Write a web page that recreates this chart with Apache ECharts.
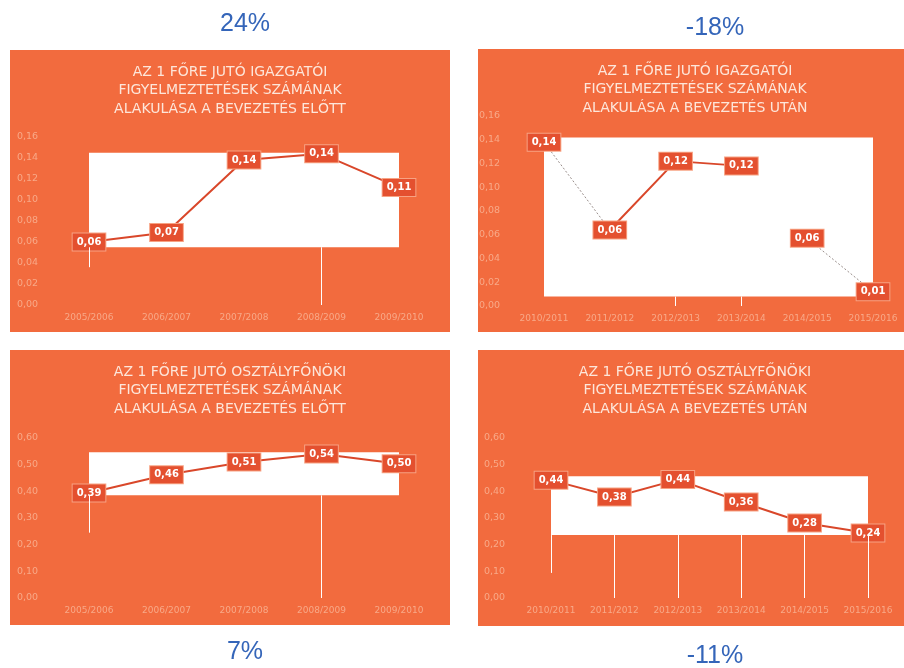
<!DOCTYPE html>
<html lang="hu">
<head>
    <meta charset="UTF-8">
    <title>Figyelmeztetések</title>
    <style>
        body { margin: 0; background: #fff; }
        #chart { width: 904px; height: 668px; }
    </style>
</head>
<body>
    <div id="chart"></div>
    <script src="https://cdn.jsdelivr.net/npm/echarts@6/dist/echarts.min.js"></script>
    <script>
        // kategóriák
        const evekElott = ['2005/2006', '2006/2007', '2007/2008', '2008/2009', '2009/2010']
        const evekUtan = ['2010/2011', '2011/2012', '2012/2013', '2013/2014', '2014/2015', '2015/2016']

        // értékek (leolvasva)
        const igazgatoiElott = [0.060, 0.069, 0.138, 0.144, 0.112]
        const igazgatoiUtan = [0.138, 0.064, 0.122, 0.118, 0.057, 0.012]
        const osztalyElott = [0.394, 0.462, 0.510, 0.540, 0.503]
        const osztalyUtan = [0.442, 0.379, 0.444, 0.360, 0.281, 0.244]

        // tengely feliratok
        const igazgatoiTicks = [0, 0.02, 0.04, 0.06, 0.08, 0.10, 0.12, 0.14, 0.16]
        const osztalyTicks = [0, 0.1, 0.2, 0.3, 0.4, 0.5, 0.6]

        // a második grafikonon: folytonos és pontozott szakaszok
        const folytonosIdx = [1, 2, 3]
        const pontozottIdx = [0, 1, 4, 5]

        const valtozas = ['24%', '-18%', '7%', '-11%']
        const cimek = [
            'AZ 1 FŐRE JUTÓ IGAZGATÓI\nFIGYELMEZTETÉSEK SZÁMÁNAK\nALAKULÁSA A BEVEZETÉS ELŐTT',
            'AZ 1 FŐRE JUTÓ IGAZGATÓI\nFIGYELMEZTETÉSEK SZÁMÁNAK\nALAKULÁSA A BEVEZETÉS UTÁN',
            'AZ 1 FŐRE JUTÓ OSZTÁLYFŐNÖKI\nFIGYELMEZTETÉSEK SZÁMÁNAK\nALAKULÁSA A BEVEZETÉS ELŐTT',
            'AZ 1 FŐRE JUTÓ OSZTÁLYFŐNÖKI\nFIGYELMEZTETÉSEK SZÁMÁNAK\nALAKULÁSA A BEVEZETÉS UTÁN'
        ]

        const narancs = '#f26b3e'
        const vonal = '#d9472a'
        const halvany = '#f8a988'

        const myChart = echarts.init(document.getElementById('chart'))

        const panels = [
            { x: 10, y: 50, w: 440, h: 282 },
            { x: 478, y: 49, w: 426, h: 283 },
            { x: 10, y: 350, w: 440, h: 275 },
            { x: 478, y: 350, w: 426, h: 276 }
        ]

        const grids = [
            { left: 89, right: 505, top: 137, bottom: 363 },
            { left: 544, right: 31, top: 116, bottom: 362 },
            { left: 89, right: 505, top: 438, bottom: 70 },
            { left: 551, right: 36, top: 438, bottom: 70 }
        ]

        const labelMargins = [72, 65, 72, 67]

        function fmt(v) {
            return v.toFixed(2).replace('.', ',')
        }

        const xAxis = [evekElott, evekUtan, evekElott, evekUtan].map(function (cats, i) {
            return {
                type: 'category',
                gridIndex: i,
                data: cats,
                boundaryGap: false,
                axisLine: { show: false },
                axisTick: { show: false },
                axisLabel: {
                    color: halvany,
                    fontSize: 9,
                    fontFamily: 'DejaVu Sans',
                    margin: 8,
                    interval: 0
                },
                splitLine: { show: false }
            }
        })

        const yAxis = [igazgatoiTicks, igazgatoiTicks, osztalyTicks, osztalyTicks].map(function (t, i) {
            return {
                type: 'value',
                gridIndex: i,
                min: t[0],
                max: t[t.length - 1],
                interval: t[1] - t[0],
                axisLine: { show: false },
                axisTick: { show: false },
                splitLine: { show: false },
                axisLabel: {
                    color: halvany,
                    fontSize: 9.5,
                    fontFamily: 'DejaVu Sans',
                    align: 'left',
                    margin: labelMargins[i],
                    formatter: fmt
                }
            }
        })

        // fehér téglalapok és függőleges vonalak (adatkoordinátában)
        const dobozok = [
            [['2005/2006', 0.145], ['2009/2010', 0.055]],
            [['2010/2011', 0.142], ['2015/2016', 0.008]],
            [['2005/2006', 0.547], ['2009/2010', 0.385]],
            [['2010/2011', 0.457], ['2015/2016', 0.236]]
        ]
        const fuggolegesek = [
            [['2005/2006', 0.055, 0.036], ['2008/2009', 0.055, 0]],
            [['2012/2013', 0.008, 0], ['2013/2014', 0.008, 0]],
            [['2005/2006', 0.385, 0.245], ['2008/2009', 0.385, 0]],
            [['2010/2011', 0.236, 0.094], ['2011/2012', 0.236, 0], ['2012/2013', 0.236, 0],
             ['2013/2014', 0.236, 0], ['2014/2015', 0.236, 0], ['2015/2016', 0.236, 0]]
        ]

        const adatok = [igazgatoiElott, igazgatoiUtan, osztalyElott, osztalyUtan]

        const series = []

        // második grafikon vonalszakaszai
        series.push({
            type: 'line',
            xAxisIndex: 1,
            yAxisIndex: 1,
            data: igazgatoiUtan.map(function (v, i) { return folytonosIdx.indexOf(i) >= 0 ? v : null }),
            symbol: 'none',
            connectNulls: false,
            lineStyle: { color: vonal, width: 2 },
            z: 3
        })
        series.push({
            type: 'line',
            xAxisIndex: 1,
            yAxisIndex: 1,
            data: igazgatoiUtan.map(function (v, i) { return pontozottIdx.indexOf(i) >= 0 ? v : null }),
            symbol: 'none',
            connectNulls: false,
            lineStyle: { color: '#9a8f8c', width: 1, type: [2, 2] },
            z: 3
        })

        adatok.forEach(function (d, i) {
            series.push({
                type: 'line',
                xAxisIndex: i,
                yAxisIndex: i,
                data: d,
                symbol: 'circle',
                symbolSize: 2,
                itemStyle: { color: vonal },
                lineStyle: { color: vonal, width: i === 1 ? 0 : 2 },
                z: 4,
                label: {
                    show: true,
                    position: 'inside',
                    formatter: function (p) { return fmt(p.value) },
                    color: '#fff',
                    fontWeight: 'bold',
                    fontSize: 10,
                    fontFamily: 'DejaVu Sans',
                    backgroundColor: '#e4502f',
                    borderColor: '#f7a283',
                    borderWidth: 1,
                    padding: [4, 4, 3, 4]
                },
                markArea: {
                    silent: true,
                    itemStyle: { color: '#ffffff' },
                    data: [[{ coord: dobozok[i][0] }, { coord: dobozok[i][1] }]]
                },
                markLine: {
                    silent: true,
                    symbol: 'none',
                    label: { show: false },
                    lineStyle: { color: '#ffffff', width: 1, type: 'solid' },
                    data: fuggolegesek[i].map(function (f) {
                        return [{ coord: [f[0], f[1]] }, { coord: [f[0], f[2]] }]
                    })
                }
            })
        })

        const graphic = []
        panels.forEach(function (p, i) {
            graphic.push({
                type: 'rect',
                z: -10,
                silent: true,
                shape: { x: p.x, y: p.y, width: p.w, height: p.h },
                style: { fill: narancs }
            })
            graphic.push({
                type: 'text',
                silent: true,
                x: p.x + (i % 2 === 0 ? 220 : 217),
                y: p.y + 13,
                style: {
                    text: cimek[i],
                    textAlign: 'center',
                    textVerticalAlign: 'top',
                    font: '14px "DejaVu Sans"',
                    lineHeight: 18.5,
                    fill: '#fde6da'
                }
            })
        })

        const szazalekPos = [[245, 24], [715, 28], [245, 652], [715, 656]]
        valtozas.forEach(function (t, i) {
            graphic.push({
                type: 'text',
                silent: true,
                x: szazalekPos[i][0],
                y: szazalekPos[i][1],
                style: {
                    text: t,
                    textAlign: 'center',
                    textVerticalAlign: 'middle',
                    font: '25px "Liberation Sans"',
                    fill: '#3465b9'
                }
            })
        })

        const option = {
            backgroundColor: '#ffffff',
            animation: false,
            grid: grids,
            xAxis: xAxis,
            yAxis: yAxis,
            graphic: graphic,
            series: series
        }

        myChart.setOption(option)
    </script>
</body>
</html>
